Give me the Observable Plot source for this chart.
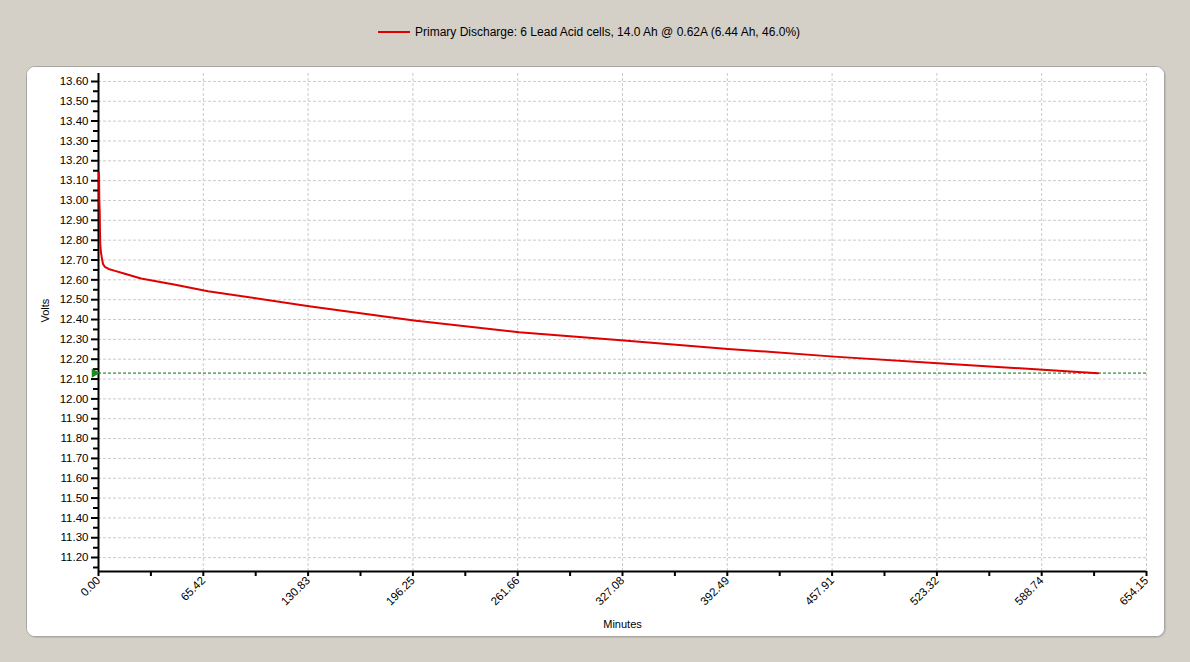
<!DOCTYPE html>
<html>
<head>
<meta charset="utf-8">
<script src="https://cdn.jsdelivr.net/npm/d3@7"></script>
<script src="https://cdn.jsdelivr.net/npm/@observablehq/plot@0.6"></script>
<style>
  html, body { margin: 0; padding: 0; }
  body { width: 1190px; height: 662px; background: #d4d0c8; position: relative; overflow: hidden;
         font-family: "Liberation Sans", Arial, sans-serif; }
  #legend { position: absolute; left: 378px; top: 25px; height: 16px; font-size: 12px; color: #000; white-space: nowrap; }
  #legend .sw { display: inline-block; width: 32px; height: 2px; background: #e00000; vertical-align: middle; margin-right: 5px; position: relative; top: -1px; }
  #panel { position: absolute; left: 26px; top: 66px; width: 1137px; height: 569px; background: #fff; overflow: hidden;
           border: 1px solid #a9a6a0; border-radius: 9px; box-shadow: 1px 1px 1px #bdb9b0; }
  #panel svg { display: block; }
</style>
</head>
<body>
<div id="legend"><span class="sw"></span>Primary Discharge: 6 Lead Acid cells, 14.0 Ah @ 0.62A (6.44 Ah, 46.0%)</div>
<div id="panel"></div>
<script>
// ---- data ----
const minutes = [0, 0.2, 0.44, 0.6, 0.8, 1.2, 1.8, 2.5, 3.7, 6, 10, 15.6, 26.2, 46.8, 68, 131.1, 196.6, 262.2, 327.7, 392.6, 458.8, 523.7, 589.2, 623.6];
const volts   = [13.14, 13.0, 12.95, 12.85, 12.78, 12.74, 12.71, 12.68, 12.665, 12.655, 12.645, 12.632, 12.607, 12.576, 12.543, 12.467, 12.395, 12.336, 12.294, 12.252, 12.213, 12.179, 12.147, 12.129];
const cutoffVolts = 12.13;
const seriesName = "Primary Discharge: 6 Lead Acid cells, 14.0 Ah @ 0.62A (6.44 Ah, 46.0%)";
const xTicks = [0, 65.415, 130.83, 196.245, 261.66, 327.075, 392.49, 457.905, 523.32, 588.735, 654.15];
const xTickLabels = ["0.00", "65.42", "130.83", "196.25", "261.66", "327.08", "392.49", "457.91", "523.32", "588.74", "654.15"];
const xMinorTicks = [32.7075, 98.1225, 163.5375, 228.9525, 294.3675, 359.7825, 425.1975, 490.6125, 556.0275, 621.4425];
const yTicks = d3.range(1120, 1361, 10).map(v => v / 100);
const yMinorTicks = d3.range(1115, 1364, 10).map(v => v / 100);
const xDomain = [0, 654.15];
const yDomain = [11.13, 13.64];

const data = minutes.map((m, i) => ({minutes: m, volts: volts[i]}));
const labelOf = new Map(xTicks.map((t, i) => [t, xTickLabels[i]]));

const chart = Plot.plot({
  width: 1137,
  height: 569,
  marginLeft: 71,
  marginRight: 18,
  marginTop: 6,
  marginBottom: 65,
  style: {background: "#fff", fontFamily: "'Liberation Sans', Arial, sans-serif", fontSize: "11.5px", color: "#000"},
  x: {domain: xDomain},
  y: {domain: yDomain},
  marks: [
    Plot.gridY(yTicks, {stroke: "#cbcbcb", strokeOpacity: 1, strokeDasharray: "3,2"}),
    Plot.gridX(xTicks, {stroke: "#cbcbcb", strokeOpacity: 1, strokeDasharray: "3,2"}),
    Plot.ruleY([cutoffVolts], {stroke: "#007000", strokeWidth: 1, strokeDasharray: "3,2"}),
    Plot.axisY(yMinorTicks, {tickSize: 5, text: null, strokeWidth: 2, label: null}),
    Plot.axisY(yTicks, {tickSize: 7, tickPadding: 3, tickFormat: d => d.toFixed(2), strokeWidth: 2, label: null}),
    Plot.axisX(xMinorTicks, {tickSize: 5, strokeWidth: 2, text: null, label: null}),
    Plot.axisX(xTicks, {tickSize: 5, strokeWidth: 2, tickFormat: d => labelOf.get(d), tickRotate: -45, tickPadding: 2, label: null}),
    Plot.ruleX([0], {stroke: "#000", strokeWidth: 2}),
    Plot.ruleY([yDomain[0]], {stroke: "#000", strokeWidth: 2}),
    Plot.line(data, {x: "minutes", y: "volts", stroke: "#e00000", strokeWidth: 2, dx: 0.5}),
    Plot.dot([cutoffVolts], {x: () => 0, y: d => d, symbol: "triangle", rotate: 90, r: 3.5, fill: "#1a8a1a", stroke: "none", dx: -4}),
    Plot.text(["Volts"], {frameAnchor: "left", dx: -53, rotate: -90, fontSize: 11}),
    Plot.text(["Minutes"], {frameAnchor: "bottom", dy: 56, fontSize: 11})
  ]
});
document.getElementById("panel").appendChild(chart);
</script>
</body>
</html>
